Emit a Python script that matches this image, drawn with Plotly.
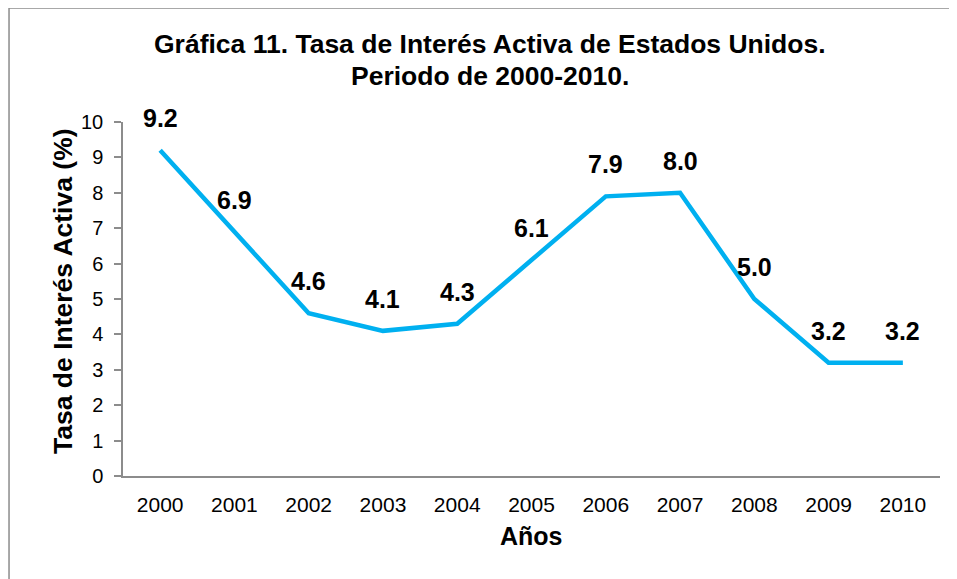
import plotly.graph_objects as go

years = ["2000", "2001", "2002", "2003", "2004", "2005", "2006", "2007", "2008", "2009", "2010"]
rates = [9.2, 6.9, 4.6, 4.1, 4.3, 6.1, 7.9, 8.0, 5.0, 3.2, 3.2]
y_ticks = [0, 1, 2, 3, 4, 5, 6, 7, 8, 9, 10]
title_lines = ["Gráfica 11. Tasa de Interés Activa de Estados Unidos.", "Periodo de 2000-2010."]
x_title = "Años"
y_title = "Tasa de Interés Activa (%)"

FONT = "Liberation Sans, Arial, sans-serif"

fig = go.Figure()
fig.add_trace(go.Scatter(
    x=years, y=rates, mode="lines",
    line=dict(color="#00B0F0", width=4.5),
    hoverinfo="x+y", showlegend=False,
))

# data labels (use category index for annotation positions)
for i, v in enumerate(rates):
    fig.add_annotation(x=i, y=v, xref="x", yref="y", text=f"<b>{v:.1f}</b>", showarrow=False,
                       yshift=32, font=dict(family=FONT, size=25, color="black"))

# title lines
for txt, yy in zip(title_lines, [1.2203, 1.1299]):
    fig.add_annotation(x=0.4492, y=yy, xref="paper", yref="paper", text=f"<b>{txt}</b>",
                       showarrow=False, xanchor="center", yanchor="middle",
                       font=dict(family=FONT, size=26.5, color="black"))

# axis titles
fig.add_annotation(x=-0.0734, y=0.52, xref="paper", yref="paper", text=f"<b>{y_title}</b>",
                   textangle=-90, showarrow=False, xanchor="center", yanchor="middle",
                   font=dict(family=FONT, size=26.5, color="black"))
fig.add_annotation(x=0.5006, y=-0.1695, xref="paper", yref="paper", text=f"<b>{x_title}</b>",
                   showarrow=False, xanchor="center", yanchor="middle",
                   font=dict(family=FONT, size=25, color="black"))

fig.update_layout(
    width=949, height=571,
    margin=dict(l=115, r=17, t=114, b=103),
    paper_bgcolor="white", plot_bgcolor="white",
    font=dict(family=FONT, color="black"),
    xaxis=dict(
        type="category", showgrid=False, showline=True, linecolor="#8c8c8c", linewidth=1.5,
        ticks="outside", ticklen=9, tickcolor="rgba(0,0,0,0)",
        tickfont=dict(size=21, color="black"),
        range=[-0.5, 10.5],
    ),
    yaxis=dict(
        range=[0, 10], tickvals=y_ticks, showgrid=False, zeroline=False,
        showline=True, linecolor="#8c8c8c", linewidth=1.5,
        ticks="outside", ticklen=7, tickcolor="#8c8c8c", tickwidth=1.5,
        ticklabelstandoff=7,
        tickfont=dict(size=20, color="black"),
    ),
)

fig.add_shape(type="rect", xref="paper", yref="paper",
              x0=-0.1395, x1=1.2, y0=-0.5, y1=1.322,
              line=dict(color="#8c8c8c", width=1.5), fillcolor="rgba(0,0,0,0)", layer="below")

fig.write_html("out.html")
